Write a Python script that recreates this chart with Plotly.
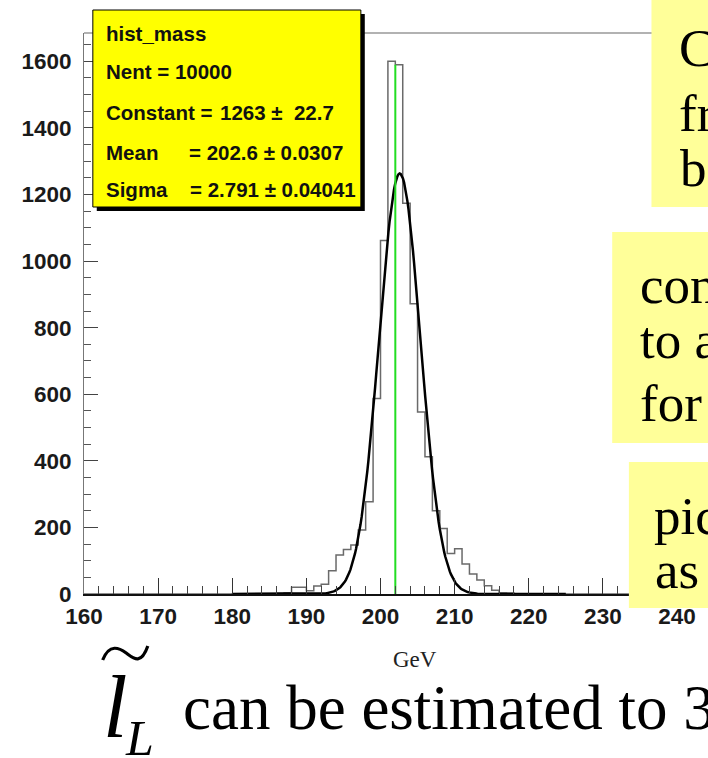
import numpy as np
import plotly.graph_objects as go

# ---------------- data ----------------
bin_edges = list(range(160, 241))          # 1 GeV bins, 160..240
counts = [0, 0, 0, 0, 0, 0, 0, 0, 0, 0,
          0, 0, 0, 0, 0, 0, 0, 0, 0, 0,
          1, 1, 0, 1, 1, 1, 2, 4, 20, 20,
          10, 24, 29, 70, 117, 134, 147, 192, 277, 587,
          1062, 1600, 1590, 1174, 872, 547, 412, 250, 197, 122,
          136, 90, 60, 42, 25, 11, 4, 3, 1, 1,
          0, 0, 0, 0, 0, 0, 0, 0, 0, 0,
          0, 0, 0, 0, 0, 0, 0, 0, 0, 0]
fit_constant = 1263.0
fit_mean = 202.6
fit_sigma = 2.791
fit_range = [180.0, 225.0]
marker_x = 202.0
marker_top = 1590
x_ticks = [160, 170, 180, 190, 200, 210, 220, 230, 240]
y_ticks = [0, 200, 400, 600, 800, 1000, 1200, 1400, 1600]

stats_title = "hist_mass"
stats_nent = "Nent = 10000"
stats_labels = ["Constant =", "Mean", "Sigma"]
stats_values = ["1263 \u00b1  22.7", "= 202.6 \u00b1 0.0307", "= 2.791 \u00b1 0.04041"]

# ---------------- geometry helpers (plot area in px) ----------------
W, H = 708, 758
L, R, T, B = 84, 688, 33, 594


def px(xp):
    return (xp - L) / (R - L)


def py(yp):
    return (B - yp) / (B - T)


fig = go.Figure()

# histogram outline
fig.add_trace(go.Scatter(
    x=bin_edges, y=counts + [counts[-1]], mode="lines",
    line=dict(color="#6a6a6a", width=1.5, shape="hv"),
    hoverinfo="skip", showlegend=False))

# gaussian fit curve from the fitted parameters
xf = np.linspace(fit_range[0], fit_range[1], 300)
yf = fit_constant * np.exp(-0.5 * ((xf - fit_mean) / fit_sigma) ** 2)
fig.add_trace(go.Scatter(x=xf, y=yf, mode="lines",
                         line=dict(color="black", width=2.5),
                         hoverinfo="skip", showlegend=False))

# green marker line
fig.add_trace(go.Scatter(x=[marker_x, marker_x], y=[0, marker_top], mode="lines",
                         line=dict(color="#22dd22", width=2),
                         hoverinfo="skip", showlegend=False))

tickfont = dict(family="Liberation Sans", size=22.5, color="#1a1a1a", weight="bold")

fig.update_layout(
    width=W, height=H, autosize=False,
    margin=dict(l=L, r=W - R, t=T, b=H - B, pad=0),
    paper_bgcolor="white", plot_bgcolor="white",
    xaxis=dict(range=[160, 240], tickvals=x_ticks, ticks="inside", ticklen=16,
               tickwidth=1, tickcolor="#333", showline=True, linecolor="#111",
               linewidth=1.5, showgrid=False, zeroline=False, tickfont=tickfont,
               minor=dict(dtick=2, tick0=160, ticks="inside", ticklen=8,
                          tickcolor="#444", tickwidth=1),
               ticklabelstandoff=1),
    yaxis=dict(range=[0, 1685], tickvals=y_ticks, ticks="inside", ticklen=14,
               tickwidth=1, tickcolor="#444", showline=True, linecolor="#777",
               linewidth=1, showgrid=False, zeroline=False, tickfont=tickfont,
               minor=dict(dtick=50, tick0=0, ticks="inside", ticklen=7,
                          tickcolor="#555", tickwidth=1),
               ticklabelstandoff=7),
)

shapes = []
# top frame line
shapes.append(dict(type="line", xref="paper", yref="paper", x0=0, x1=1, y0=1, y1=1,
                   line=dict(color="#999", width=1.5), layer="above"))
# stats box with shadow
shapes.append(dict(type="rect", xref="paper", yref="paper",
                   x0=px(97), x1=px(370), y0=py(211), y1=py(14),
                   fillcolor="black", line=dict(width=0), layer="above"))
shapes.append(dict(type="rect", xref="paper", yref="paper",
                   x0=px(93), x1=px(366), y0=py(207), y1=py(10),
                   fillcolor="#ffff00", line=dict(color="black", width=1), layer="above"))
# pale yellow note boxes on the right
for (x0, y0, x1, y1) in [(662, -5, 720, 207), (622, 232, 720, 443), (639, 462, 720, 608)]:
    shapes.append(dict(type="rect", xref="paper", yref="paper",
                       x0=px(x0), x1=px(x1), y0=py(y1), y1=py(y0),
                       fillcolor="#ffff99", line=dict(width=0), layer="above"))
# tilde over the big l
shapes.append(dict(type="path", xref="paper", yref="paper",
                   path="M {:.4f},{:.4f} C {:.4f},{:.4f} {:.4f},{:.4f} {:.4f},{:.4f} S {:.4f},{:.4f} {:.4f},{:.4f}".format(
                       px(103), py(660), px(110), py(643), px(120), py(648), px(127), py(653),
                       px(142), py(666), px(149), py(646)),
                   line=dict(color="black", width=3.2), layer="above"))
fig.update_layout(shapes=shapes)

ann = []
sfont = dict(family="Liberation Sans", size=20.5, color="#111", weight="bold")


def add_text(text, x, y, font, xanchor="left", yanchor="middle"):
    ann.append(dict(text=text, x=px(x), y=py(y), xref="paper", yref="paper",
                    showarrow=False, xanchor=xanchor, yanchor=yanchor, font=font,
                    borderpad=0))


add_text(stats_title, 105, 33, sfont)
add_text(stats_nent, 105, 72, sfont)
add_text(stats_labels[0], 105, 112, sfont)
add_text(stats_values[0], 221, 112, sfont)
add_text(stats_labels[1], 105, 152, sfont)
add_text(stats_values[1], 190, 152, sfont)
add_text(stats_labels[2], 105, 189, sfont)
add_text(stats_values[2], 191, 189, sfont)

nfont = dict(family="Liberation Serif", size=53, color="black")
for text, x, base in [("C", 689, 65), ("fr", 689, 130), ("b", 690, 185),
                      ("con", 649, 302), ("to a", 649, 357), ("for", 649, 420),
                      ("pic", 664, 533), ("as", 665, 587)]:
    add_text(text, x, base - 17, nfont)

add_text("GeV", 421, 659, dict(family="Liberation Serif", size=23, color="#222"),
         xanchor="center")
add_text("can be estimated to 3", 184, 708, dict(family="Liberation Serif", size=63, color="black"))
add_text("<i>l</i>", 102, 707, dict(family="Liberation Serif", size=88, color="black"))
add_text("<i>L</i>", 125, 738, dict(family="Liberation Serif", size=50, color="black"))

fig.update_layout(annotations=ann)

fig.write_html("out.html")
